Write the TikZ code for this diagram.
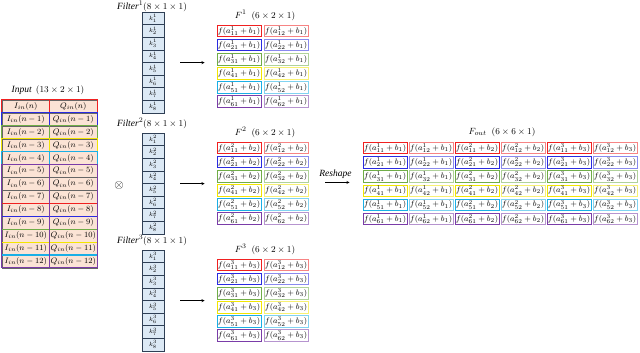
\documentclass[tikz,border=0pt]{standalone}
\usepackage{fontspec}
\setmainfont{Liberation Serif}
\usepackage{amsmath}

\definecolor{inpeach}{HTML}{FBE3D5}
\definecolor{kblue}{HTML}{DCE9F5}
\definecolor{kedge}{HTML}{2F3F55}
\definecolor{wred}{HTML}{F02020}
\definecolor{wblue}{HTML}{2A2AE0}
\definecolor{wgreen}{HTML}{70AD47}
\definecolor{wyellow}{HTML}{F2E600}
\definecolor{wcyan}{HTML}{1AAFE6}
\definecolor{wpurple}{HTML}{7A3CA8}

\tikzset{
  lbl/.style={font=\fontsize{9.5}{11}\selectfont, inner sep=1pt},
  incell/.style={draw=black!60, fill=inpeach, minimum width=47.5pt, minimum height=12.9pt,
    inner sep=0pt, font=\fontsize{8.5}{9}\selectfont},
  kcell/.style={draw=kedge, fill=kblue, minimum width=22pt, minimum height=12.6pt,
    inner sep=0pt, font=\fontsize{6.5}{6.5}\selectfont},
  fcell/.style={line width=0.9pt, fill=white, minimum width=44pt, minimum height=11.5pt,
    inner sep=0pt, font=\fontsize{7.9}{8}\selectfont},
  window/.style={line width=1.1pt},
}

\begin{document}
\begin{tikzpicture}[x=1pt, y=-1pt, >=stealth]
    \useasboundingbox (0,0) rectangle (640,353);

    % input samples and the six sliding windows
    \node[lbl] (inlbl) at (48,90) {\textit{Input}\, $(13\times 2\times 1)$};
    \foreach \r in {0,...,12}{
        \ifnum\r=0 \def\nn{n}\else\def\nn{n-\r}\fi
        \node[incell] (in-\r-1) at (25.75,{100+12.9*(\r+0.5)}) {$I_{in}(\nn)$};
        \node[incell] (in-\r-2) at (73.25,{100+12.9*(\r+0.5)}) {$Q_{in}(\nn)$};
    }
    \foreach \w/\c in {0/wred,1/wblue,2/wgreen,3/wyellow,4/wcyan,5/wpurple}{
        \pgfmathtruncatemacro{\e}{\w+7}
        \draw[window, \c] (in-\w-1.north west) rectangle (in-\e-1.south east);
        \draw[window, \c] (in-\w-2.north west) rectangle (in-\e-2.south east);
    }

    \node (conv) at (119,185) {\fontsize{13}{13}\selectfont$\otimes$};

    % filters and their feature maps
    \foreach \k/\t/\lt/\ft in {1/12/6.5/24, 2/133/123/141, 3/250/240/258}{
        \node[lbl] (flbl\k) at (152,\lt) {\textit{Filter}$^{\k}(8\times 1\times 1)$};
        \foreach \j in {1,...,8}
            \node[kcell] (k\k-\j) at (153,{\t+12.6*(\j-0.5)}) {$k^{\k}_{\j}$};
        \node[lbl] (Flbl\k) at (265,{\ft-9}) {$F^{\k}$\; $(6\times 2\times 1)$};
        \foreach \i/\c in {1/wred,2/wblue,3/wgreen,4/wyellow,5/wcyan,6/wpurple}{
            \node[fcell, draw=\c] (F\k-\i-1) at (239,{\ft+14.1*(\i-0.5)}) {$f(a^{\k}_{\i1}+b_{\k})$};
            \node[fcell, draw=\c!55] (F\k-\i-2) at (286,{\ft+14.1*(\i-0.5)}) {$f(a^{\k}_{\i2}+b_{\k})$};
        }
        \draw[->, shorten <=16pt, shorten >=12pt] (k\k-4.south east) -- (k\k-4.south east -| F\k-1-1.west);
    }

    % reshaped output
    \node[lbl] (Folbl) at (502,132) {$F_{out}$\; $(6\times 6\times 1)$};
    \foreach \i/\c in {1/wred,2/wblue,3/wgreen,4/wyellow,5/wcyan,6/wpurple}{
        \foreach \k in {1,2,3}{
            \node[fcell, draw=\c] (Fo-\i-\k-1) at ({385+92*(\k-1)},{141+14.2*(\i-0.5)}) {$f(a^{\k}_{\i1}+b_{\k})$};
            \node[fcell, draw=\c!55] (Fo-\i-\k-2) at ({431+92*(\k-1)},{141+14.2*(\i-0.5)}) {$f(a^{\k}_{\i2}+b_{\k})$};
        }
    }
    \draw[->, shorten <=17pt, shorten >=13pt] (F2-3-2.south east) -- (F2-3-2.south east -| Fo-1-1-1.west)
        node[midway, above=3pt, lbl] {\textit{Reshape}};

\end{tikzpicture}
\end{document}
